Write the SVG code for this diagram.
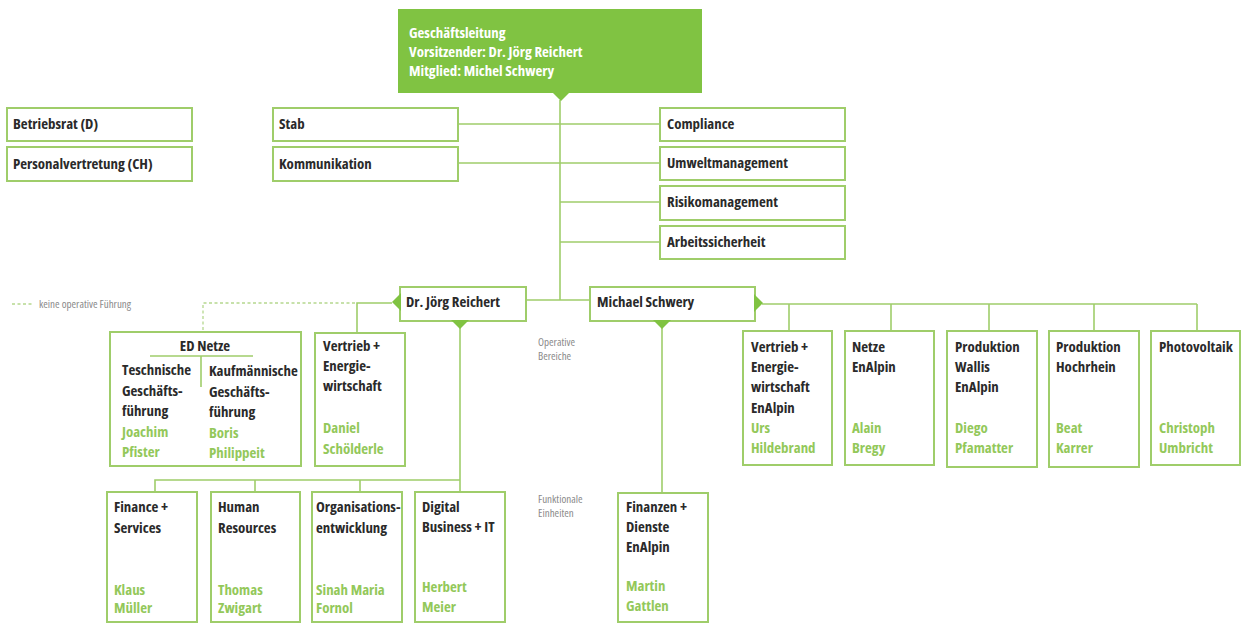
<svg xmlns="http://www.w3.org/2000/svg" width="1242" height="623" viewBox="0 0 1242 623">
<style>
.bx{fill:#fff;stroke:#9fcd6a;stroke-width:2}
.ln{fill:none;stroke:#9fcd6a;stroke-width:1.6}
.dash{fill:none;stroke:#b5d88e;stroke-width:1.3;stroke-dasharray:3 2.5}
.ptr{fill:#80c342}
text{font-family:"Open Sans","DejaVu Sans Condensed",sans-serif;font-stretch:75%;font-weight:bold;font-size:14.9px;fill:#2a2a2a}
.g{fill:#93c85a}
.w{fill:#fff}
.s{font-family:"Open Sans","Liberation Sans",sans-serif;font-size:11px;font-weight:normal;fill:#8a8a8a;font-stretch:87.5%}
</style>
<rect width="1242" height="623" fill="#fff"/>
<g id="connectors">
<line class="ln" x1="560" y1="100" x2="560" y2="300"/>
<line class="ln" x1="458" y1="124" x2="660" y2="124"/>
<line class="ln" x1="458" y1="163" x2="660" y2="163"/>
<line class="ln" x1="560" y1="202" x2="660" y2="202"/>
<line class="ln" x1="560" y1="242" x2="660" y2="242"/>
<line class="ln" x1="526" y1="300" x2="590" y2="300"/>
<polyline class="ln" points="392,303 357,303 357,333"/>
<polyline class="dash" points="355,303 203,303 203,332"/>
<polyline class="ln" points="460,328 460,480"/>
<polyline class="ln" points="460,480 155,480 155,492"/>
<line class="ln" x1="255" y1="480" x2="255" y2="492"/>
<line class="ln" x1="360" y1="480" x2="360" y2="492"/>
<line class="ln" x1="460" y1="480" x2="460" y2="492"/>
<line class="ln" x1="662" y1="328" x2="662" y2="493"/>
<line class="ln" x1="762" y1="304" x2="1197" y2="304"/>
<line class="ln" x1="789" y1="304" x2="789" y2="331"/>
<line class="ln" x1="891" y1="304" x2="891" y2="331"/>
<line class="ln" x1="989" y1="304" x2="989" y2="331"/>
<line class="ln" x1="1094" y1="304" x2="1094" y2="331"/>
<line class="ln" x1="1197" y1="304" x2="1197" y2="331"/>
</g>
<g id="legend">
<line class="dash" x1="12" y1="304" x2="34" y2="304"/>
<text class="s" x="39" y="308">keine operative Führung</text>
</g>
<g id="labels">
<text class="s" x="538" y="346">Operative</text>
<text class="s" x="538" y="360">Bereiche</text>
<text class="s" x="538" y="503">Funktionale</text>
<text class="s" x="538" y="517">Einheiten</text>
</g>
<g id="gl">
<rect x="398" y="9" width="304" height="84" fill="#80c342"/>
<polygon class="ptr" points="552,92 570,92 561,101"/>
<text class="w" x="409" y="38">Geschäftsleitung</text>
<text class="w" x="409" y="57">Vorsitzender: Dr. Jörg Reichert</text>
<text class="w" x="409" y="76">Mitglied: Michel Schwery</text>
</g>
<g id="betriebsrat"><rect class="bx" x="7" y="108" width="185" height="33"/><text x="13" y="129">Betriebsrat (D)</text></g>
<g id="personalvertretung"><rect class="bx" x="7" y="147" width="185" height="34"/><text x="13" y="169">Personalvertretung (CH)</text></g>
<g id="stab"><rect class="bx" x="273" y="108" width="185" height="33"/><text x="279" y="129">Stab</text></g>
<g id="kommunikation"><rect class="bx" x="273" y="147" width="185" height="34"/><text x="279" y="169">Kommunikation</text></g>
<g id="compliance"><rect class="bx" x="660" y="108" width="185" height="33"/><text x="667" y="129">Compliance</text></g>
<g id="umwelt"><rect class="bx" x="660" y="147" width="185" height="33"/><text x="667" y="168">Umweltmanagement</text></g>
<g id="risiko"><rect class="bx" x="660" y="186" width="185" height="34"/><text x="667" y="207">Risikomanagement</text></g>
<g id="arbeit"><rect class="bx" x="660" y="226" width="185" height="33"/><text x="667" y="247">Arbeitssicherheit</text></g>
<g id="reichert">
<rect class="bx" x="400" y="287" width="126" height="34"/>
<polygon class="ptr" points="401,293 401,311 392,302"/>
<polygon class="ptr" points="451,320 469,320 460,329"/>
<text x="406" y="307">Dr. Jörg Reichert</text>
</g>
<g id="schwery">
<rect class="bx" x="590" y="287" width="165" height="34"/>
<polygon class="ptr" points="754,294 754,312 763,303"/>
<polygon class="ptr" points="653,320 671,320 662,329"/>
<text x="597" y="307">Michael Schwery</text>
</g>
<g id="ednetze">
<rect class="bx" x="110" y="332" width="191" height="134"/>
<text x="205" y="351" text-anchor="middle">ED Netze</text>
<line class="ln" x1="150" y1="356" x2="253" y2="356"/>
<line class="ln" x1="201" y1="356" x2="201" y2="387"/>
<text x="122" y="375">Teschnische</text>
<text x="122" y="396">Geschäfts-</text>
<text x="122" y="416">führung</text>
<text class="g" x="122" y="437">Joachim</text>
<text class="g" x="122" y="457">Pfister</text>
<text x="209" y="376">Kaufmännische</text>
<text x="209" y="397">Geschäfts-</text>
<text x="209" y="417">führung</text>
<text class="g" x="209" y="438">Boris</text>
<text class="g" x="209" y="458">Philippeit</text>
</g>
<g id="vertrieb">
<rect class="bx" x="315" y="333" width="90" height="133"/>
<text x="323" y="351">Vertrieb +</text>
<text x="323" y="371">Energie-</text>
<text x="323" y="391">wirtschaft</text>
<text class="g" x="323" y="433">Daniel</text>
<text class="g" x="323" y="454">Schölderle</text>
</g>
<g id="vertrieb-enalpin">
<rect class="bx" x="743" y="331" width="89" height="134"/>
<text x="751" y="352">Vertrieb +</text>
<text x="751" y="372">Energie-</text>
<text x="751" y="392">wirtschaft</text>
<text x="751" y="413">EnAlpin</text>
<text class="g" x="751" y="433">Urs</text>
<text class="g" x="751" y="453">Hildebrand</text>
</g>
<g id="netze-enalpin">
<rect class="bx" x="845" y="331" width="89" height="134"/>
<text x="852" y="352">Netze</text>
<text x="852" y="372">EnAlpin</text>
<text class="g" x="852" y="433">Alain</text>
<text class="g" x="852" y="453">Bregy</text>
</g>
<g id="produktion-wallis">
<rect class="bx" x="947" y="331" width="90" height="136"/>
<text x="955" y="352">Produktion</text>
<text x="955" y="372">Wallis</text>
<text x="955" y="392">EnAlpin</text>
<text class="g" x="955" y="433">Diego</text>
<text class="g" x="955" y="453">Pfamatter</text>
</g>
<g id="produktion-hochrhein">
<rect class="bx" x="1049" y="331" width="90" height="136"/>
<text x="1056" y="352">Produktion</text>
<text x="1056" y="372">Hochrhein</text>
<text class="g" x="1056" y="433">Beat</text>
<text class="g" x="1056" y="453">Karrer</text>
</g>
<g id="photovoltaik">
<rect class="bx" x="1151" y="331" width="89" height="134"/>
<text x="1159" y="352">Photovoltaik</text>
<text class="g" x="1159" y="433">Christoph</text>
<text class="g" x="1159" y="453">Umbricht</text>
</g>
<g id="finance">
<rect class="bx" x="107" y="492" width="90" height="130"/>
<text x="114" y="512">Finance +</text>
<text x="114" y="533">Services</text>
<text class="g" x="114" y="595">Klaus</text>
<text class="g" x="114" y="613">Müller</text>
</g>
<g id="hr">
<rect class="bx" x="211" y="492" width="89" height="130"/>
<text x="218" y="512">Human</text>
<text x="218" y="533">Resources</text>
<text class="g" x="218" y="595">Thomas</text>
<text class="g" x="218" y="613">Zwigart</text>
</g>
<g id="orga">
<rect class="bx" x="312" y="492" width="90" height="130"/>
<text x="316" y="512">Organisations-</text>
<text x="316" y="533">entwicklung</text>
<text class="g" x="316" y="595">Sinah Maria</text>
<text class="g" x="316" y="613">Fornol</text>
</g>
<g id="digital">
<rect class="bx" x="415" y="492" width="90" height="130"/>
<text x="422" y="512">Digital</text>
<text x="422" y="532">Business + IT</text>
<text class="g" x="422" y="592">Herbert</text>
<text class="g" x="422" y="612">Meier</text>
</g>
<g id="finanzen-enalpin">
<rect class="bx" x="618" y="493" width="90" height="129"/>
<text x="626" y="512">Finanzen +</text>
<text x="626" y="532">Dienste</text>
<text x="626" y="552">EnAlpin</text>
<text class="g" x="626" y="591">Martin</text>
<text class="g" x="626" y="611">Gattlen</text>
</g>
</svg>
